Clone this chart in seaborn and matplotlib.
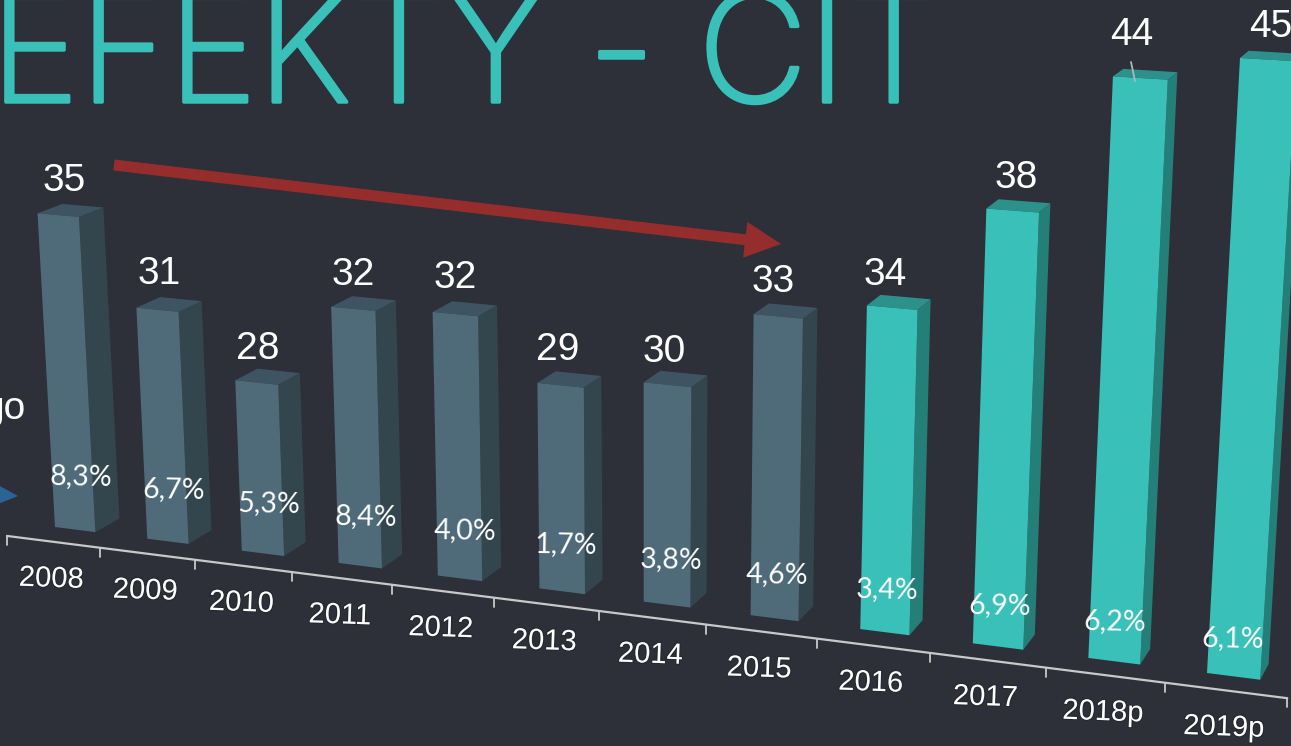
import numpy as np
import matplotlib
matplotlib.use('Agg')
import matplotlib.pyplot as plt
import matplotlib.patches as mpatches
import matplotlib.patheffects as pe
from matplotlib.transforms import Transform, IdentityTransform
import seaborn as sns

# Data
years = ['2008', '2009', '2010', '2011', '2012', '2013', '2014', '2015', '2016', '2017', '2018p', '2019p']
values = [34.85, 30.9, 28, 31.8, 32, 29.3, 29.8, 33.2, 34, 38.4, 44, 45]
value_labels = ['35', '31', '28', '32', '32', '29', '30', '33', '34', '38', '44', '45']
growth_labels = ['8,3%', '6,7%', '5,3%', '8,4%', '4,0%', '1,7%', '3,8%', '4,6%', '3,4%', '6,9%', '6,2%', '6,1%']
groups = ['before'] * 8 + ['after'] * 4

W, H = 1291, 746
BG = '#2D3038'
TEAL = '#39C0B9'
front = {'before': '#4F6B79', 'after': TEAL}
side = {'before': '#33464E', 'after': '#257F79'}
top = {'before': '#3E5462', 'after': '#2C918B'}

# Perspective of the slide: the value axis starts at 20
BASE = 20
BAR_W = 0.44
DEPTH = 0.0135
VANISH = np.array([1880.0, -479.0])
AXIS_Z = -0.9

src = [(-BAR_W / 2, BASE), (11 - BAR_W / 2, BASE), (11 - BAR_W / 2, 45), (-BAR_W / 2, 45)]
dst = [(55, 527), (1207, 673), (1240, 58), (25, -12)]
rows, rhs = [], []
for (x, y), (u, v) in zip(src, dst):
    rows.append([x, y, 1, 0, 0, 0, -u * x, -u * y])
    rows.append([0, 0, 0, x, y, 1, -v * x, -v * y])
    rhs += [u, v]
h = np.linalg.solve(np.array(rows, float), np.array(rhs, float))


def project(x, y, z=0.0):
    x = np.asarray(x, float)
    y = np.asarray(y, float)
    w = h[6] * x + h[7] * y + 1
    u = (h[0] * x + h[1] * y + h[2]) / w
    v = (h[3] * x + h[4] * y + h[5]) / w
    # depth slides a point towards the vanishing point
    u = u + (VANISH[0] - u) * DEPTH * z
    v = v + (VANISH[1] - v) * DEPTH * z
    return np.column_stack([u, H - v])


class Perspective(Transform):
    input_dims = 2
    output_dims = 2
    is_separable = False
    has_inverse = False

    def __init__(self, z=0.0):
        super().__init__()
        self.z = z

    def transform_non_affine(self, values):
        values = np.asarray(values, float)
        return project(values[:, 0], values[:, 1], self.z)


sns.set_theme(style='dark', rc={'figure.facecolor': BG, 'axes.facecolor': BG})
plt.rcParams['font.family'] = ['Liberation Sans', 'DejaVu Sans']

fig = plt.figure(figsize=(W / 100, H / 100), dpi=100)
ax = fig.add_axes([0, 0, 1, 1])
sns.barplot(x=years, y=values, hue=groups, palette=front, width=BAR_W, dodge=False,
            saturation=1, legend=False, ax=ax)
ax.set_axis_off()

pixel = IdentityTransform()
persp = Perspective(0)


def px(x, y):
    return (x, H - y)


# Bars: seaborn draws the front faces, side and top are extruded from them
for bar in ax.patches:
    i = int(round(bar.get_x() + bar.get_width() / 2))
    val = values[i]
    bar.set_y(BASE)
    bar.set_height(val - BASE)
    bar.set_linewidth(0)
    bar.set_transform(persp)
    x0, x1 = bar.get_x(), bar.get_x() + bar.get_width()
    side_pts = np.vstack([project([x1, x1], [BASE, val], 0), project([x1, x1], [val, BASE], 1)])
    top_pts = np.vstack([project([x0, x1], [val, val], 0), project([x1, x0], [val, val], 1)])
    ax.add_patch(mpatches.Polygon(side_pts, closed=True, transform=pixel, color=side[groups[i]], lw=0, zorder=0.8))
    ax.add_patch(mpatches.Polygon(top_pts, closed=True, transform=pixel, color=top[groups[i]], lw=0, zorder=0.8))

# Category axis in front of the bars
axis_tf = Perspective(AXIS_Z)
ax.plot([-0.5, 11.5], [BASE, BASE], color='#C9C9C9', lw=1.6, transform=axis_tf, clip_on=False, zorder=2)
for t in np.arange(-0.5, 12):
    p = project(t, BASE, AXIS_Z)[0]
    ax.plot([p[0], p[0]], [p[1], p[1] - 9], color='#C9C9C9', lw=1.3, transform=pixel, zorder=2)

for i, year in enumerate(years):
    ax.annotate(year, xy=(i, BASE), xycoords=axis_tf, xytext=(-2, -37), textcoords='offset pixels',
                ha='center', va='center', fontsize=21, color='white', rotation=-2, rotation_mode='anchor',
                path_effects=[pe.withStroke(linewidth=1.5, foreground='#1E2026', alpha=0.5)], zorder=5)

# Value labels over the bars, the 2018p one sits higher with a leader line
nudge_x = [6, 2, 1, 0, 0, -3, -3, -5, -7, 4, -9, 3]
nudge_y = [34, 36, 34, 34, 36, 35, 33, 34, 33, 33, 43, 33]
for i, label in enumerate(value_labels):
    ax.annotate(label, xy=(i, values[i]), xycoords=persp,
                xytext=(nudge_x[i], nudge_y[i]), textcoords='offset pixels',
                ha='center', va='center', fontsize=28, color='white', zorder=5)
ax.plot([1131, 1135], [H - 62, H - 81], color='#B5B5B5', lw=1.3, transform=pixel, zorder=5)

# Growth rates at the foot of each bar
for i, label in enumerate(growth_labels):
    ax.annotate(label, xy=(i + 0.1 - 0.011 * i, 22.6 - 0.09 * i), xycoords=persp,
                ha='center', va='center', fontsize=20.5, color='white', family='Lato', fontweight='normal',
                rotation=-1, zorder=5)

# Title, cut by the top of the slide
fig.text(-10 / W, 1 - 102 / H, 'EFEKTY - CIT', fontsize=109, color=TEAL, family='Inter', fontweight='light',
         ha='left', va='baseline',
         path_effects=[pe.withStroke(linewidth=2.5, foreground=TEAL, capstyle='round', joinstyle='round')])

# Red trend arrow
tail = np.array(px(114, 165))
tip = np.array(px(781, 244))
ax.add_patch(mpatches.FancyArrow(tail[0], tail[1], *(tip - tail), width=11, head_width=36, head_length=36,
                                 length_includes_head=True, color='#962D2D', lw=0, transform=pixel, zorder=4))

# Leftovers of the neighbouring slide element
fig.text(26 / W, 1 - 409 / H, 'go', fontsize=28, color='white', ha='right', va='center')
ax.add_patch(mpatches.Polygon([px(-2, 485), px(18, 496), px(-2, 504)], closed=True, transform=pixel,
                              color='#2A6496', lw=0, zorder=3))

fig.savefig('out.png', dpi=100, facecolor=BG)
